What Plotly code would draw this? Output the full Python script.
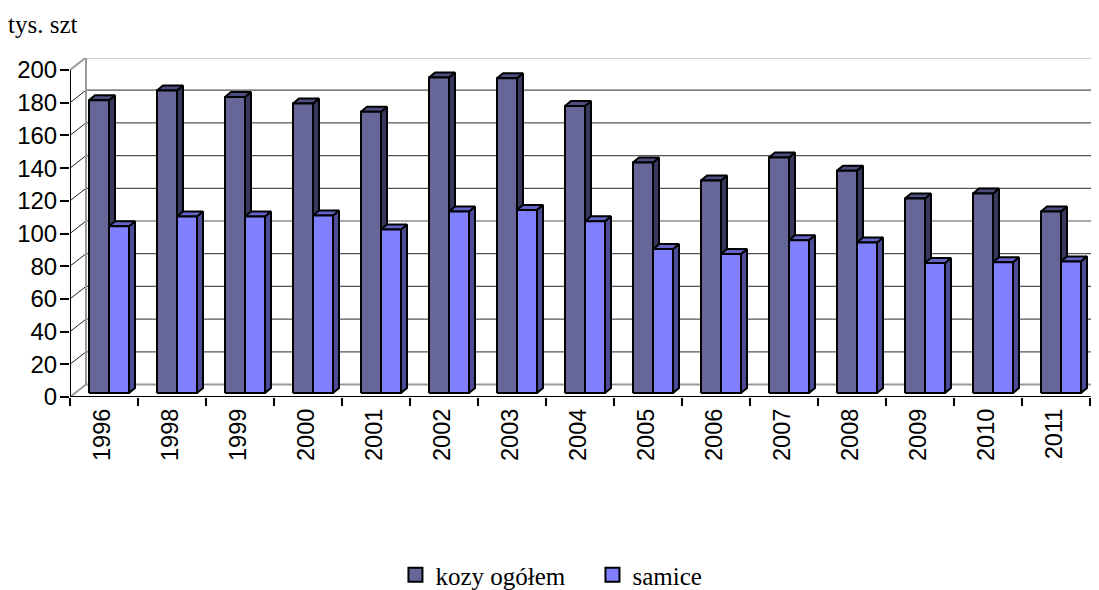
import plotly.graph_objects as go

years = ["1996", "1998", "1999", "2000", "2001", "2002", "2003", "2004",
         "2005", "2006", "2007", "2008", "2009", "2010", "2011"]
kozy = [179, 185, 181, 177, 172, 193, 192.5, 175.5, 141, 130, 144, 136, 119, 122, 111]
samice = [102, 108, 108, 108.5, 100, 111, 112, 105, 88, 85, 93.5, 92, 79.5, 80, 80.5]
y_ticks = [0, 20, 40, 60, 80, 100, 120, 140, 160, 180, 200]

# pixel size of one category and of one y unit
CAT_PX = 68
VAL_PX = 1.635
# the page body adds 8px on the left and top
LEFT, TOP, BOTTOM = 62, 50, 193

# the fake 3d depth, given in pixels
WALL_DX, WALL_DY = 16 / CAT_PX, 12.5 / VAL_PX
BASE_DX, BASE_DY = 5 / CAT_PX, 4 / VAL_PX
SIDE_DX, SIDE_DY = 6 / CAT_PX, 5 / VAL_PX
BAR_W = 20 / CAT_PX
X_END = 1029 / CAT_PX
AXIS_END = len(years)


def segments(pairs):
    xs, ys = [], []
    for (x0, y0), (x1, y1) in pairs:
        xs += [x0, x1, None]
        ys += [y0, y1, None]
    return xs, ys


def polygons(polys):
    xs, ys = [], []
    for poly in polys:
        xs += [p[0] for p in poly] + [poly[0][0], None]
        ys += [p[1] for p in poly] + [poly[0][1], None]
    return xs, ys


def add_lines(fig, pairs, color, width):
    xs, ys = segments(pairs)
    fig.add_trace(go.Scatter(x=xs, y=ys, mode="lines", showlegend=False, hoverinfo="skip",
                             cliponaxis=False, line=dict(color=color, width=width)))


def add_faces(fig, polys, color):
    xs, ys = polygons(polys)
    fig.add_trace(go.Scatter(x=xs, y=ys, mode="lines", fill="toself", fillcolor=color,
                             showlegend=False, hoverinfo="skip", cliponaxis=False,
                             line=dict(color="black", width=2)))


def add_bars(fig, values, left_shift, front, side, top):
    fronts, sides, tops = [], [], []
    for i, v in enumerate(values):
        x0 = i + 0.5 + BASE_DX + left_shift
        x1 = x0 + BAR_W
        y0 = BASE_DY
        y1 = v + BASE_DY
        fronts.append([(x0, y0), (x1, y0), (x1, y1), (x0, y1)])
        sides.append([(x1, y0), (x1 + SIDE_DX, y0 + SIDE_DY), (x1 + SIDE_DX, y1 + SIDE_DY), (x1, y1)])
        tops.append([(x0, y1), (x1, y1), (x1 + SIDE_DX, y1 + SIDE_DY), (x0 + SIDE_DX, y1 + SIDE_DY)])
    add_faces(fig, sides, side)
    add_faces(fig, tops, top)
    add_faces(fig, fronts, front)


fig = go.Figure()

# walls and gridlines
add_lines(fig, [((WALL_DX, v + WALL_DY), (X_END, v + WALL_DY)) for v in y_ticks[1:-1]], "#555555", 1.2)
add_lines(fig, [((0, v), (WALL_DX, v + WALL_DY)) for v in y_ticks[1:-1]], "#222222", 1)
add_lines(fig, [((0, 0), (WALL_DX, WALL_DY)), ((0, 200), (WALL_DX, 200 + WALL_DY)),
                ((WALL_DX, WALL_DY), (WALL_DX, 200 + WALL_DY)),
                ((WALL_DX, 200 + WALL_DY), (X_END, 200 + WALL_DY)),
                ((WALL_DX, WALL_DY), (X_END, WALL_DY))], "#999999", 2)
add_lines(fig, [((AXIS_END, 0), (X_END, WALL_DY * 0.6))], "#222222", 1)

add_bars(fig, kozy, -BAR_W, "#666699", "#38385f", "#4d4d80")
add_bars(fig, samice, 0, "#8080ff", "#4c4c99", "#6464c8")

# front axes
add_lines(fig, [((0, 0), (0, 200)), ((0, 0), (AXIS_END, 0))], "black", 2)

# legend swatches
for name, color in [("kozy ogółem", "#666699"), ("samice", "#8080ff")]:
    fig.add_trace(go.Scatter(x=[None], y=[None], mode="markers", name=name,
                             marker=dict(symbol="square", size=14, color=color,
                                         line=dict(color="black", width=2))))

fig.update_layout(
    width=1091,
    height=582,
    margin=dict(l=LEFT, r=0, t=TOP, b=BOTTOM, pad=0),
    paper_bgcolor="white",
    plot_bgcolor="white",
    title=dict(text="tys. szt", x=0, xanchor="left", y=1 - 16 / 582, yanchor="middle",
               font=dict(family="Liberation Serif", size=25, color="black")),
    legend=dict(orientation="h", xref="container", x=0.5357, xanchor="center",
                yref="container", y=1 - 567 / 582, yanchor="middle",
                entrywidth=152, entrywidthmode="pixels",
                font=dict(family="Liberation Serif", size=25, color="black")),
    xaxis=dict(range=[0, X_END], tickmode="array",
               tickvals=[i + 0.47 for i in range(len(years))], ticktext=years,
               ticks="", tickangle=-90, showgrid=False, showline=False, zeroline=False,
               ticklabelstandoff=6,
               tickfont=dict(family="Liberation Sans", size=23.5, color="black"),
               minor=dict(tickmode="array", tickvals=list(range(len(years) + 1)), ticks="outside",
                          ticklen=8, tickwidth=2, tickcolor="black", showgrid=False)),
    yaxis=dict(range=[0, 339 / VAL_PX], tickmode="array", tickvals=y_ticks,
               ticks="outside", ticklen=9, tickwidth=2, tickcolor="black",
               ticklabelstandoff=-2,
               showgrid=False, showline=False, zeroline=False,
               tickfont=dict(family="Liberation Sans", size=24, color="black")),
)

fig.write_html("out.html")
